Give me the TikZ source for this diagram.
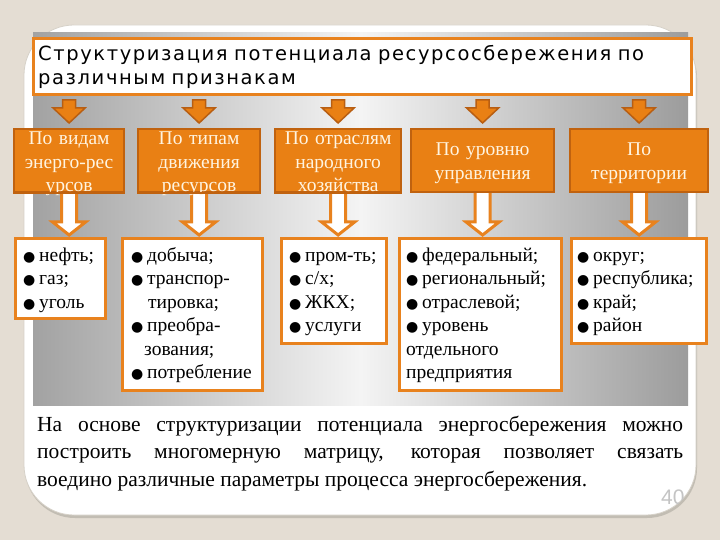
\documentclass[tikz,border=0pt]{standalone}
\usepackage{fontspec}
\setmainfont{Liberation Serif}
\newfontfamily\dejavu{DejaVu Sans}
\newfontfamily\dejavuls[LetterSpace=8.2]{DejaVu Sans}
\newfontfamily\lsans{Liberation Sans}
\usetikzlibrary{calc}
\pgfdeclarelayer{back}
\pgfdeclarelayer{mid}
\pgfsetlayers{back,mid,main}
\definecolor{bgc}{HTML}{E4DDD3}
\definecolor{shadowc}{HTML}{C2BDB3}
\definecolor{cardedge}{HTML}{D6D1C8}
\definecolor{grayL}{HTML}{A2A2A2}
\definecolor{grayM}{HTML}{F4F4F4}
\definecolor{grayR}{HTML}{9C9C9C}
\definecolor{ofill}{HTML}{E98014}
\definecolor{oborder}{HTML}{C0620F}
\definecolor{oline}{HTML}{E8821E}
\definecolor{sborder}{HTML}{B85E12}
\definecolor{creamc}{HTML}{FFF4E0}
\definecolor{numc}{HTML}{C4C4C4}
\newcommand\lbul{\makebox[16pt][l]{\dejavu\fontsize{14}{14}\selectfont ●}}
\newcommand\smallarr[2]{\draw[sarrow] ($(#2.north |- #1.south)+(-6.5,4)$) -- ($(#2.north)+(-6.5,-20)$) -- ($(#2.north)+(-16,-20)$) -- ($(#2.north)+(0,-5)$) -- ($(#2.north)+(16,-20)$) -- ($(#2.north)+(6.5,-20)$) -- ($(#2.north |- #1.south)+(6.5,4)$) -- cycle;}
\newcommand\bigarr[2]{\draw[warrow] ($(#1.south)+(-7.5,-3)$) -- ($(#1.south |- #2.north)+(-7.5,-15)$) -- ($(#1.south |- #2.north)+(-16.5,-15)$) -- ($(#1.south |- #2.north)+(0,-2)$) -- ($(#1.south |- #2.north)+(16.5,-15)$) -- ($(#1.south |- #2.north)+(7.5,-15)$) -- ($(#1.south)+(7.5,-3)$);}
\begin{document}
\begin{tikzpicture}[x=1pt,y=-1pt,
  obox/.style={draw=oborder, line width=2.2pt, fill=ofill, inner sep=0pt, anchor=north west, minimum height=63pt},
  lbox/.style={draw=oline, line width=3pt, fill=white, inner sep=0pt, anchor=north west},
  otext/.style={anchor=base, inner sep=0pt, align=center, text=creamc, font=\fontsize{19.5}{23.5}\selectfont},
  ltext/.style={anchor=base west, inner sep=0pt, align=left, text width=200pt, font=\fontsize{19.5}{23.6}\selectfont},
  sarrow/.style={fill=ofill, draw=sborder, line width=1.5pt, line join=miter},
  warrow/.style={fill=white, draw=oline, line width=3pt, line join=miter},
  obottom/.style={draw=oborder, line width=2.2pt}]
\useasboundingbox (0,0) rectangle (720,540);
\begin{pgfonlayer}{back}
\fill[bgc] (0,0) rectangle (720,540);
\fill[shadowc, rounded corners=50pt] (25,28) rectangle (697,518);
\path[fill=white, draw=cardedge, line width=0.8pt, rounded corners=50pt] (24,25) rectangle (696,515);
\shade[left color=grayL, right color=grayR, middle color=grayM] (33,33) rectangle (688,405);
\begin{scope}
  \clip[rounded corners=50pt] (24,25) rectangle (696,515);
  \node[anchor=base west, inner sep=0pt, text=numc, font=\lsans\fontsize{21}{21}\selectfont] (pg) at (661,504) {40};
\end{scope}
\end{pgfonlayer}

% title
\node[draw=oline, line width=3pt, fill=white, minimum width=658pt, minimum height=56pt, anchor=north west, inner sep=0pt] (t) at (32,37) {};
\node[anchor=base west, inner sep=0pt, align=left, text width=655pt, font=\dejavuls\fontsize{19.5}{24}\selectfont] (tt) at (38,61) {Структуризация потенциала ресурсосбережения по\\различным признакам};

% orange boxes
\node[obox, minimum width=110pt] (o1) at (13,128) {};
\node[obox, minimum width=122pt] (o2) at (137,128) {};
\node[obox, minimum width=126pt] (o3) at (274,128) {};
\node[obox, minimum width=143pt] (o4) at (410,128) {};
\node[obox, minimum width=138pt] (o5) at (569,128) {};

\node[otext, text width=110pt] (ot1) at ($(o1.north)+(0,17)$) {По видам\\энерго-рес\\урсов};
\node[otext, text width=122pt] (ot2) at ($(o2.north)+(0,17)$) {По типам\\движения\\ресурсов};
\node[otext, text width=126pt] (ot3) at ($(o3.north)+(0,17)$) {По отраслям\\народного\\хозяйства};
\node[otext, text width=143pt] (ot4) at ($(o4.north)+(0,28)$) {По уровню\\управления};
\node[otext, text width=138pt] (ot5) at ($(o5.north)+(0,28)$) {По\\территории};
\foreach \n in {o1,o2,o3} \draw[obottom] (\n.south west) -- (\n.south east);

% list boxes
\node[lbox, minimum width=90pt, minimum height=80pt] (l1) at (14,237) {};
\node[lbox, minimum width=140pt, minimum height=152pt] (l2) at (121,237) {};
\node[lbox, minimum width=105pt, minimum height=105pt] (l3) at (280,237) {};
\node[lbox, minimum width=162pt, minimum height=152pt] (l4) at (398,237) {};
\node[lbox, minimum width=135pt, minimum height=105pt] (l5) at (570,237) {};

\node[ltext] (lt1) at ($(l1.north west)+(9,24)$) {\lbul нефть;\\\lbul газ;\\\lbul уголь};
\node[ltext] (lt2) at ($(l2.north west)+(10,24)$) {\lbul добыча;\\\lbul транспор-\\\hspace*{17pt}тировка;\\\lbul преобра-\\\hspace*{13pt}зования;\\\lbul потребление};
\node[ltext] (lt3) at ($(l3.north west)+(9,24)$) {\lbul пром-ть;\\\lbul с/х;\\\lbul ЖКХ;\\\lbul услуги};
\node[ltext] (lt4) at ($(l4.north west)+(8,24)$) {\lbul федеральный;\\\lbul региональный;\\\lbul отраслевой;\\\lbul уровень\\отдельного\\предприятия};
\node[ltext] (lt5) at ($(l5.north west)+(7,24)$) {\lbul округ;\\\lbul республика;\\\lbul край;\\\lbul район};

% arrows
\begin{pgfonlayer}{mid}
\foreach \n in {o1,o2,o3,o4,o5} {\smallarr{t}{\n}}
\bigarr{o1}{l1}
\bigarr{o2}{l2}
\bigarr{o3}{l3}
\bigarr{o4}{l4}
\bigarr{o5}{l5}
\end{pgfonlayer}

% paragraph
\node[anchor=base west, inner sep=0pt, text width=646pt, align=justify, font=\fontsize{21.5}{27.5}\selectfont] (para) at (37,431) {\tolerance=10000\hyphenpenalty=10000\exhyphenpenalty=10000 На основе структуризации потенциала энергосбережения можно\linebreak построить многомерную матрицу, которая позволяет связать\linebreak воедино различные параметры процесса энергосбережения.};
\end{tikzpicture}
\end{document}
